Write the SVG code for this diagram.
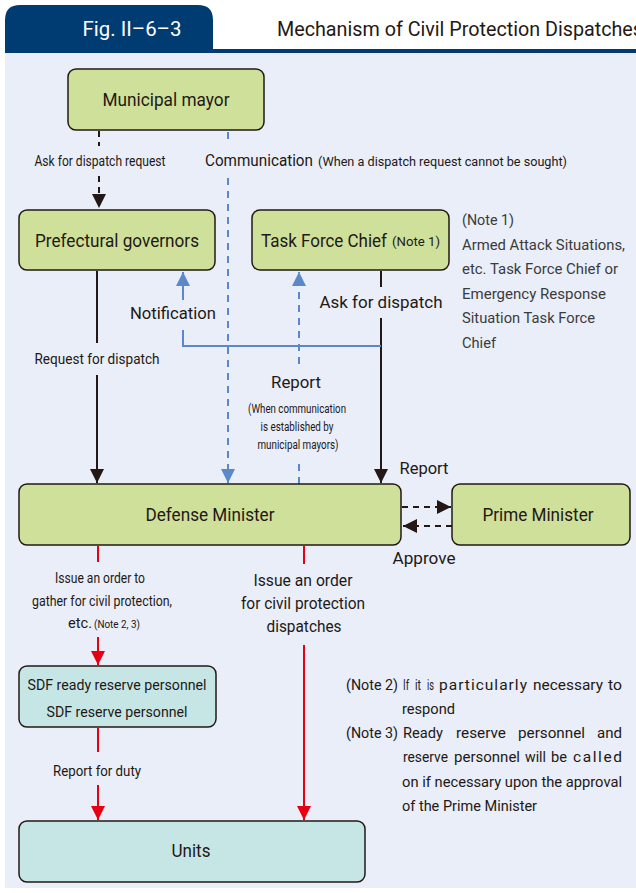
<svg xmlns="http://www.w3.org/2000/svg" width="636" height="893" viewBox="0 0 636 893">
<defs>
<style>
text{font-family:Roboto,"Liberation Sans",sans-serif;fill:#231815;}
.g{fill:#cfe09a;stroke:#231815;stroke-width:1.5;}
.t{fill:#c6e6e6;stroke:#231815;stroke-width:1.5;}
.k{stroke:#231815;stroke-width:2;fill:none;}
.kd{stroke:#231815;stroke-width:2;fill:none;stroke-dasharray:6 5;}
.b{stroke:#5b88c8;stroke-width:2;fill:none;}
.bd{stroke:#5b88c8;stroke-width:2;fill:none;stroke-dasharray:7 6;}
.r{stroke:#e60012;stroke-width:2;fill:none;}
.c{text-anchor:middle;}
.n1{fill:#3b3b3b;}
</style>
<marker id="akl" viewBox="0 0 10 10" refX="10" refY="5" markerWidth="14" markerHeight="14" markerUnits="userSpaceOnUse" orient="auto"><path d="M0,0L10,5L0,10z" fill="#231815"/></marker>
<marker id="ab" viewBox="0 0 10 10" refX="10" refY="5" markerWidth="14" markerHeight="14" markerUnits="userSpaceOnUse" orient="auto"><path d="M0,0L10,5L0,10z" fill="#5b88c8"/></marker>
<marker id="ar" viewBox="0 0 10 10" refX="10" refY="5" markerWidth="14" markerHeight="14" markerUnits="userSpaceOnUse" orient="auto"><path d="M0,0L10,5L0,10z" fill="#e60012"/></marker>
</defs>
<rect x="0" y="0" width="636" height="893" fill="#ffffff"/>
<rect x="5" y="53" width="631" height="835" fill="#e9eef9"/>
<g id="header">
<path d="M5,53 V20 Q5,5 20,5 H198 Q213,5 213,20 V53 Z" fill="#003c72"/>
<rect x="213" y="49" width="423" height="4" fill="#003c72"/>
<text x="132" y="36" class="c" font-size="20" style="fill:#ffffff" textLength="99" lengthAdjust="spacingAndGlyphs">Fig. II–6–3</text>
<text x="277" y="36" font-size="20" textLength="366" lengthAdjust="spacingAndGlyphs">Mechanism of Civil Protection Dispatches</text>
</g>
<g id="connectors">
<line class="kd" x1="99" y1="131" x2="99" y2="146"/>
<line class="kd" x1="99" y1="176" x2="99" y2="208" marker-end="url(#akl)"/>
<line class="bd" x1="228" y1="132" x2="228" y2="144"/>
<line class="bd" x1="228" y1="178" x2="228" y2="483" marker-end="url(#ab)"/>
<line class="k" x1="97" y1="271" x2="97" y2="343"/>
<line class="k" x1="97" y1="375" x2="97" y2="483" marker-end="url(#akl)"/>
<line class="k" x1="381" y1="271" x2="381" y2="287"/>
<line class="k" x1="381" y1="318" x2="381" y2="483" marker-end="url(#akl)"/>
<polyline class="b" points="381,346 183,346 183,330"/>
<line class="b" x1="183" y1="300" x2="183" y2="272" marker-end="url(#ab)"/>
<line class="bd" x1="299" y1="484" x2="299" y2="460"/>
<line class="bd" x1="299" y1="364" x2="299" y2="272" marker-end="url(#ab)"/>
<line class="kd" x1="402" y1="507" x2="451" y2="507" marker-end="url(#akl)"/>
<line class="kd" x1="452" y1="526" x2="403" y2="526" marker-end="url(#akl)"/>
<line class="r" x1="98" y1="546" x2="98" y2="562"/>
<line class="r" x1="98" y1="637" x2="98" y2="665" marker-end="url(#ar)"/>
<line class="r" x1="304" y1="546" x2="304" y2="564"/>
<line class="r" x1="304" y1="645" x2="304" y2="820" marker-end="url(#ar)"/>
<line class="r" x1="98" y1="728" x2="98" y2="752"/>
<line class="r" x1="98" y1="785" x2="98" y2="820" marker-end="url(#ar)"/>
</g>
<g id="labels">
<text x="100" y="166" class="c" font-size="14.5" textLength="131" lengthAdjust="spacingAndGlyphs">Ask for dispatch request</text>
<text x="205" y="166" font-size="17" textLength="108" lengthAdjust="spacingAndGlyphs">Communication</text>
<text x="318" y="166" font-size="12.5" textLength="249" lengthAdjust="spacingAndGlyphs">(When a dispatch request cannot be sought)</text>
<text x="173" y="319" class="c" font-size="17" textLength="86" lengthAdjust="spacingAndGlyphs">Notification</text>
<text x="381" y="308" class="c" font-size="17" textLength="123" lengthAdjust="spacingAndGlyphs">Ask for dispatch</text>
<text x="97" y="364" class="c" font-size="15" textLength="125" lengthAdjust="spacingAndGlyphs">Request for dispatch</text>
<text x="296" y="388" class="c" font-size="17" textLength="50" lengthAdjust="spacingAndGlyphs">Report</text>
<text x="297" y="413" class="c" font-size="12" textLength="98" lengthAdjust="spacingAndGlyphs">(When communication</text>
<text x="297" y="431" class="c" font-size="12" textLength="73" lengthAdjust="spacingAndGlyphs">is established by</text>
<text x="298" y="449" class="c" font-size="12" textLength="81" lengthAdjust="spacingAndGlyphs">municipal mayors)</text>
<text x="424" y="474" class="c" font-size="17" textLength="49" lengthAdjust="spacingAndGlyphs">Report</text>
<text x="424" y="564" class="c" font-size="17" textLength="63" lengthAdjust="spacingAndGlyphs">Approve</text>
<text x="100" y="583" class="c" font-size="14" textLength="90" lengthAdjust="spacingAndGlyphs">Issue an order to</text>
<text x="102" y="606" class="c" font-size="14" textLength="140" lengthAdjust="spacingAndGlyphs">gather for civil protection,</text>
<text x="68" y="628" font-size="14" textLength="24" lengthAdjust="spacingAndGlyphs">etc.</text>
<text x="94" y="628" font-size="10.5" textLength="46" lengthAdjust="spacingAndGlyphs">(Note 2, 3)</text>
<text x="303" y="586" class="c" font-size="16" textLength="99" lengthAdjust="spacingAndGlyphs">Issue an order</text>
<text x="303" y="609" class="c" font-size="16" textLength="124" lengthAdjust="spacingAndGlyphs">for civil protection</text>
<text x="304" y="632" class="c" font-size="16" textLength="75" lengthAdjust="spacingAndGlyphs">dispatches</text>
<text x="97" y="776" class="c" font-size="15" textLength="88" lengthAdjust="spacingAndGlyphs">Report for duty</text>
</g>
<g id="note1" font-size="15">
<text class="n1" x="462" y="225" textLength="52" lengthAdjust="spacingAndGlyphs">(Note 1)</text>
<text class="n1" x="462" y="250" textLength="163" lengthAdjust="spacingAndGlyphs">Armed Attack Situations,</text>
<text class="n1" x="462" y="274" textLength="156" lengthAdjust="spacingAndGlyphs">etc. Task Force Chief or</text>
<text class="n1" x="462" y="299" textLength="144" lengthAdjust="spacingAndGlyphs">Emergency Response</text>
<text class="n1" x="462" y="323" textLength="133" lengthAdjust="spacingAndGlyphs">Situation Task Force</text>
<text class="n1" x="462" y="348" textLength="34" lengthAdjust="spacingAndGlyphs">Chief</text>
</g>
<g id="notes23" font-size="15.5">
<text x="346" y="690" textLength="52" lengthAdjust="spacingAndGlyphs">(Note 2)</text>
<text x="403" y="690" textLength="6" lengthAdjust="spacingAndGlyphs">If</text>
<text x="415" y="690" textLength="6" lengthAdjust="spacingAndGlyphs">it</text>
<text x="427" y="690" textLength="7" lengthAdjust="spacingAndGlyphs">is</text>
<text x="439" y="690" textLength="88" lengthAdjust="spacing">particularly</text>
<text x="533" y="690" textLength="70" lengthAdjust="spacingAndGlyphs">necessary</text>
<text x="608" y="690" textLength="14" lengthAdjust="spacingAndGlyphs">to</text>
<text x="402" y="714" textLength="53" lengthAdjust="spacingAndGlyphs">respond</text>
<text x="346" y="738" textLength="52" lengthAdjust="spacingAndGlyphs">(Note 3)</text>
<text x="403" y="738" textLength="40" lengthAdjust="spacingAndGlyphs">Ready</text>
<text x="456" y="738" textLength="50" lengthAdjust="spacingAndGlyphs">reserve</text>
<text x="518" y="738" textLength="67" lengthAdjust="spacingAndGlyphs">personnel</text>
<text x="597" y="738" textLength="25" lengthAdjust="spacingAndGlyphs">and</text>
<text x="403" y="762" textLength="45" lengthAdjust="spacingAndGlyphs">reserve</text>
<text x="454" y="762" textLength="66" lengthAdjust="spacingAndGlyphs">personnel</text>
<text x="525" y="762" textLength="21" lengthAdjust="spacingAndGlyphs">will</text>
<text x="551" y="762" textLength="16" lengthAdjust="spacingAndGlyphs">be</text>
<text x="573" y="762" textLength="49" lengthAdjust="spacing">called</text>
<text x="402" y="787" textLength="220" lengthAdjust="spacingAndGlyphs">on if necessary upon the approval</text>
<text x="402" y="811" textLength="135" lengthAdjust="spacingAndGlyphs">of the Prime Minister</text>
</g>
<g id="mayor">
<rect class="g" x="68" y="69" width="196" height="61" rx="8"/>
<text x="166" y="106" class="c" font-size="18" textLength="127" lengthAdjust="spacingAndGlyphs">Municipal mayor</text>
</g>
<g id="governors">
<rect class="g" x="19" y="210" width="196" height="60" rx="8"/>
<text x="117" y="247" class="c" font-size="18" textLength="164" lengthAdjust="spacingAndGlyphs">Prefectural governors</text>
</g>
<g id="taskforce">
<rect class="g" x="252" y="210" width="197" height="60" rx="8"/>
<text x="261" y="247" font-size="18" textLength="126" lengthAdjust="spacingAndGlyphs">Task Force Chief</text>
<text x="392" y="246" font-size="13" textLength="48" lengthAdjust="spacingAndGlyphs">(Note 1)</text>
</g>
<g id="defense">
<rect class="g" x="19" y="484" width="382" height="61" rx="8"/>
<text x="210" y="521" class="c" font-size="18" textLength="129" lengthAdjust="spacingAndGlyphs">Defense Minister</text>
</g>
<g id="prime">
<rect class="g" x="452" y="484" width="178" height="61" rx="8"/>
<text x="538" y="521" class="c" font-size="18" textLength="111" lengthAdjust="spacingAndGlyphs">Prime Minister</text>
</g>
<g id="sdf">
<rect class="t" x="19" y="666" width="197" height="61" rx="8"/>
<text x="117" y="690" class="c" font-size="15" textLength="179" lengthAdjust="spacingAndGlyphs">SDF ready reserve personnel</text>
<text x="117" y="717" class="c" font-size="15" textLength="141" lengthAdjust="spacingAndGlyphs">SDF reserve personnel</text>
</g>
<g id="units">
<rect class="t" x="19" y="821" width="346" height="61" rx="8"/>
<text x="191" y="857" class="c" font-size="18" textLength="39" lengthAdjust="spacingAndGlyphs">Units</text>
</g>
</svg>
